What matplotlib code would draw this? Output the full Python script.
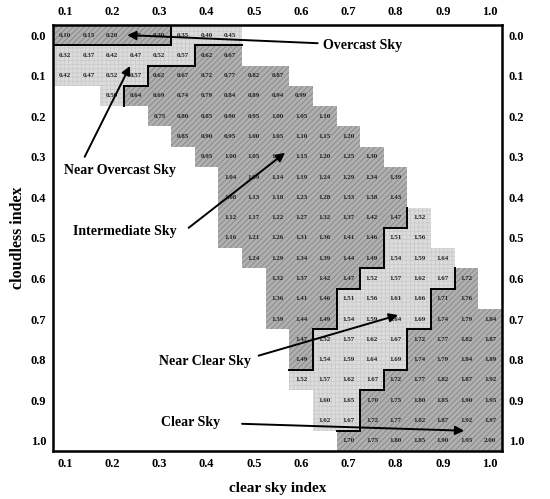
import matplotlib
matplotlib.use("Agg")
import matplotlib.pyplot as plt
from matplotlib.patches import Rectangle

# ---------------- data ----------------
cloudless = [0.00, 0.05, 0.10, 0.15, 0.20, 0.25, 0.30, 0.35, 0.40, 0.45, 0.50,
             0.55, 0.60, 0.65, 0.70, 0.75, 0.80, 0.85, 0.90, 0.95, 1.00]
x_ticks = [0.1, 0.2, 0.3, 0.4, 0.5, 0.6, 0.7, 0.8, 0.9, 1.0]
y_ticks = [0.0, 0.1, 0.2, 0.3, 0.4, 0.5, 0.6, 0.7, 0.8, 0.9, 1.0]

# clear sky index of the first cell in each row
row_start = [0.10, 0.10, 0.10, 0.20, 0.30, 0.35, 0.40, 0.45, 0.45, 0.45, 0.45,
             0.50, 0.55, 0.55, 0.55, 0.60, 0.60, 0.60, 0.65, 0.65, 0.70]

row_values = [
    [0.10, 0.15, 0.20, 0.25, 0.30, 0.35, 0.40, 0.45],
    [0.32, 0.37, 0.42, 0.47, 0.52, 0.57, 0.62, 0.67],
    [0.42, 0.47, 0.52, 0.57, 0.62, 0.67, 0.72, 0.77, 0.82, 0.87],
    [0.59, 0.64, 0.69, 0.74, 0.79, 0.84, 0.89, 0.94, 0.99],
    [0.75, 0.80, 0.85, 0.90, 0.95, 1.00, 1.05, 1.10],
    [0.85, 0.90, 0.95, 1.00, 1.05, 1.10, 1.15, 1.20],
    [0.95, 1.00, 1.05, 1.10, 1.15, 1.20, 1.25, 1.30],
    [1.04, 1.09, 1.14, 1.19, 1.24, 1.29, 1.34, 1.39],
    [1.08, 1.13, 1.18, 1.23, 1.28, 1.33, 1.38, 1.43],
    [1.12, 1.17, 1.22, 1.27, 1.32, 1.37, 1.42, 1.47, 1.52],
    [1.16, 1.21, 1.26, 1.31, 1.36, 1.41, 1.46, 1.51, 1.56],
    [1.24, 1.29, 1.34, 1.39, 1.44, 1.49, 1.54, 1.59, 1.64],
    [1.32, 1.37, 1.42, 1.47, 1.52, 1.57, 1.62, 1.67, 1.72],
    [1.36, 1.41, 1.46, 1.51, 1.56, 1.61, 1.66, 1.71, 1.76],
    [1.39, 1.44, 1.49, 1.54, 1.59, 1.64, 1.69, 1.74, 1.79, 1.84],
    [1.47, 1.52, 1.57, 1.62, 1.67, 1.72, 1.77, 1.82, 1.87],
    [1.49, 1.54, 1.59, 1.64, 1.69, 1.74, 1.79, 1.84, 1.89],
    [1.52, 1.57, 1.62, 1.67, 1.72, 1.77, 1.82, 1.87, 1.92],
    [1.60, 1.65, 1.70, 1.75, 1.80, 1.85, 1.90, 1.95],
    [1.62, 1.67, 1.72, 1.77, 1.82, 1.87, 1.92, 1.97],
    [1.70, 1.75, 1.80, 1.85, 1.90, 1.95, 2.00],
]

# sky class of every cell: O overcast, N near overcast, I intermediate,
# C near clear, K clear
row_classes = [
    "OOOOONNN",
    "NNNNNNII",
    "NNNNIIIIII",
    "NIIIIIIII",
    "IIIIIIII",
    "IIIIIIII",
    "IIIIIIII",
    "IIIIIIII",
    "IIIIIIII",
    "IIIIIIIIC",
    "IIIIIIICC",
    "IIIIIICCC",
    "IIIICCCCK",
    "IIICCCCKK",
    "IIICCCCKKK",
    "ICCCCKKKK",
    "ICCCCKKKK",
    "CCCCKKKKK",
    "CCKKKKKK",
    "CCKKKKKK",
    "KKKKKKK",
]

labels = ["Overcast Sky", "Near Overcast Sky", "Intermediate Sky",
          "Near Clear Sky", "Clear Sky"]
label_xy = [(0.73, 0.025), (0.217, 0.333), (0.227, 0.485), (0.397, 0.805), (0.365, 0.956)]
arrow_tail = [(0.635, 0.02), (0.142, 0.300), (0.362, 0.475), (0.510, 0.790), (0.475, 0.958)]
arrow_tip = [(0.232, 0.0), (0.238, 0.076), (0.566, 0.290), (0.805, 0.690), (0.945, 0.975)]

# ---------------- style ----------------
SERIF = ["Liberation Serif", "DejaVu Serif"]
plt.rcParams["font.family"] = SERIF
plt.rcParams["font.weight"] = "bold"
plt.rcParams["hatch.linewidth"] = 0.6

W = 0.05
dark_classes = {"O", "I", "K"}

fig = plt.figure(figsize=(5.5, 4.99), dpi=100)
ax = fig.add_axes([0.0964, 0.0962, 0.9127 - 0.0964, 0.95 - 0.0962])

cells = {}
for r, y in enumerate(cloudless):
    for k, (v, c) in enumerate(zip(row_values[r], row_classes[r])):
        x = round(row_start[r] + k * W, 2)
        cells[(r, round(x / W))] = c
        dark = c in dark_classes
        face = "#b0b0b0" if dark else "#dcdcdc"
        hcol = "#858585" if dark else "#cbcbcb"
        hatch = "//////" if dark else "++++"
        ax.add_patch(Rectangle((x - W / 2, y - W / 2), W, W, facecolor=face,
                               edgecolor=hcol, hatch=hatch, linewidth=0, zorder=1))
        ax.text(x, y, f"{v:.2f}", ha="center", va="center", fontsize=5,
                fontweight="bold", color="#222222", zorder=3)

# boundary lines between dark and light classes
for (r, ci), c in cells.items():
    x = ci * W
    y = cloudless[r]
    d = c in dark_classes
    nb = cells.get((r, ci + 1))
    if nb is not None and (nb in dark_classes) != d:
        ax.plot([x + W / 2, x + W / 2], [y - W / 2, y + W / 2], color="black", lw=1.4,
                solid_capstyle="projecting", zorder=4)
    nb = cells.get((r + 1, ci))
    if nb is not None and (nb in dark_classes) != d:
        ax.plot([x - W / 2, x + W / 2], [y + W / 2, y + W / 2], color="black", lw=1.4,
                solid_capstyle="projecting", zorder=4)

# annotations
for txt, pos, tail, tip in zip(labels, label_xy, arrow_tail, arrow_tip):
    ax.text(pos[0], pos[1], txt, ha="center", va="center", fontsize=10,
            fontweight="bold", zorder=6)
    ax.annotate("", xy=tip, xytext=tail,
                arrowprops=dict(arrowstyle="-|>", color="black", lw=1.4,
                                mutation_scale=13, shrinkA=0, shrinkB=0), zorder=7)

ax.set_xlim(0.075, 1.025)
ax.set_ylim(1.025, -0.025)
ax.set_xticks(x_ticks)
ax.set_xticklabels([f"{t:.1f}" for t in x_ticks])
ax.set_yticks(y_ticks)
ax.set_yticklabels([f"{t:.1f}" for t in y_ticks])
ax.tick_params(axis="both", which="both", length=0, labelsize=9, pad=5,
               top=True, labeltop=True, right=True, labelright=True,
               bottom=True, labelbottom=True, left=True, labelleft=True)
for lab in ax.get_xticklabels() + ax.get_yticklabels():
    lab.set_fontweight("bold")
for sp in ax.spines.values():
    sp.set_linewidth(1.8)
    sp.set_zorder(8)

ax.set_xlabel("clear sky index", fontsize=11, fontweight="bold", labelpad=9)
ax.set_ylabel("cloudless index", fontsize=11.5, fontweight="bold", labelpad=3)

fig.savefig("out.png", dpi=100)
